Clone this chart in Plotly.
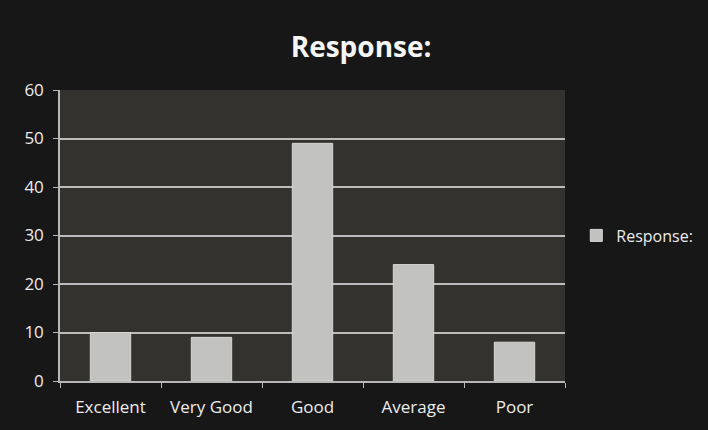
import plotly.graph_objects as go

categories = ["Excellent", "Very Good", "Good", "Average", "Poor"]
values = [10, 9, 49, 24, 8]
series_name = "Response:"
y_ticks = [0, 10, 20, 30, 40, 50, 60]

fig = go.Figure()
fig.add_trace(go.Bar(
    x=categories, y=values, name=series_name,
    marker=dict(color="#c2c2c0", line=dict(color="#d6d6d4", width=1)),
    width=0.4, showlegend=True,
))

fig.update_layout(
    width=708, height=430,
    margin=dict(l=60, r=143, t=90, b=49),
    paper_bgcolor="#171717",
    plot_bgcolor="#34322f",
    font=dict(family="Open Sans, Liberation Sans, sans-serif", color="#ececec", size=17),
    title=dict(text="<b>Response:</b>", x=0.51, xanchor="center", y=0.89, yanchor="middle",
               font=dict(size=28, color="#f5f5f5")),
    showlegend=True,
    legend=dict(xref="container", x=0.814, xanchor="left", y=0.5, yanchor="middle", itemwidth=30,
                font=dict(size=16, color="#ececec"), bgcolor="rgba(0,0,0,0)"),
    bargap=0.6,
)
fig.update_xaxes(
    showline=True, linecolor="#b8b8b8", linewidth=1.5,
    ticks="outside", ticklen=5, tickcolor="#b8b8b8", tickson="boundaries",
    showgrid=False, tickfont=dict(size=17, color="#ececec"), ticklabelstandoff=10,
)
fig.update_yaxes(
    range=[0, 60], tickvals=y_ticks, showline=True, linecolor="#b8b8b8", linewidth=1.5,
    ticks="outside", ticklen=5, tickcolor="#b8b8b8",
    showgrid=True, gridcolor="#bcbcbc", gridwidth=1.5, zeroline=False,
    tickfont=dict(size=17, color="#ececec"), ticklabelstandoff=6,
)
fig.write_html("out.html", config={"displayModeBar": False},
               post_script="document.body.style.margin='0';")
